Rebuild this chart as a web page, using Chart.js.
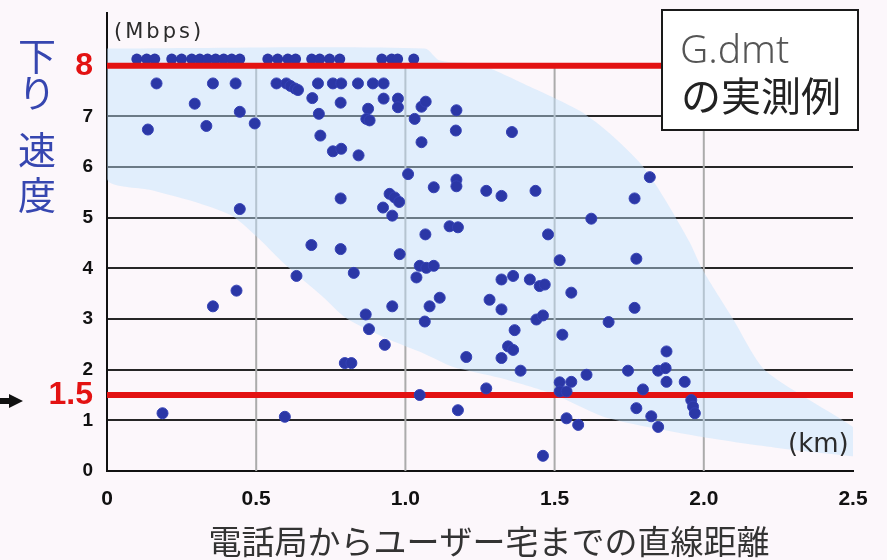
<!DOCTYPE html>
<html>
<head>
<meta charset="utf-8">
<script src="https://cdn.jsdelivr.net/npm/chart.js@4.4.0/dist/chart.umd.min.js"></script>
<style>
  html, body { margin: 0; padding: 0; background: #fcf7fb; }
  #wrap { width: 887px; height: 560px; }
</style>
</head>
<body>
<div id="wrap"><canvas id="myChart" width="887" height="560"></canvas></div>
<script>
// measured points (km, Mbps)
const distanceKm = [
  0.166, 0.355, 0.431, 0.294, 0.445, 0.137, 0.333, 0.495,
  0.568, 0.601, 0.615, 0.63, 0.64, 0.688, 0.707, 0.757, 0.785, 0.841, 0.891, 0.927,
  0.783, 0.71, 0.875, 0.869, 0.88, 0.927, 0.975, 0.975,
  0.715, 0.757, 0.785, 0.843, 1.031, 1.054, 1.068, 1.171, 1.169, 1.357, 1.054,
  1.009, 1.095, 1.171, 1.171, 1.271, 1.322, 1.436,
  0.947, 0.964, 0.979, 0.925, 0.956, 0.783, 0.445,
  1.148, 1.176, 1.067, 1.478, 0.981, 1.048, 1.070, 1.095, 1.037,
  1.322, 1.361, 1.417, 1.45, 1.467, 1.282, 1.115, 0.956, 1.081,
  1.517, 1.556, 1.322, 1.065, 1.439, 1.461, 1.366, 1.344, 1.361, 1.322, 1.204, 1.386,
  1.526, 1.607, 1.517, 1.556, 1.517, 1.54, 1.271, 1.048, 1.176, 1.54, 1.579, 1.461,
  1.819, 1.768, 1.623, 1.774, 1.768, 1.681, 1.875, 1.746, 1.847, 1.872, 1.875, 1.936, 1.796, 1.958, 1.964, 1.97, 1.774, 1.824, 1.847,
  0.355, 0.434, 0.186, 0.596, 0.635, 0.685, 0.783, 0.827, 0.867, 0.878, 0.931, 0.797, 0.819
];
const speedMbps = [
  7.65, 7.65, 7.65, 7.25, 7.09, 6.74, 6.81, 6.86,
  7.65, 7.65, 7.6, 7.55, 7.52, 7.36, 7.65, 7.65, 7.65, 7.65, 7.65, 7.65,
  7.27, 7.05, 7.15, 6.95, 6.92, 7.35, 7.35, 7.18,
  6.62, 6.31, 6.36, 6.23, 6.95, 7.19, 7.29, 7.12, 6.72, 6.69, 6.49,
  5.86, 5.60, 5.75, 5.62, 5.53, 5.43, 5.53,
  5.47, 5.40, 5.31, 5.20, 5.04, 5.38, 5.17,
  4.83, 4.81, 4.67, 4.67, 4.28, 4.05, 4.01, 4.05, 3.82,
  3.78, 3.85, 3.78, 3.65, 3.68, 3.38, 3.42, 3.25, 3.25,
  4.16, 3.52, 3.19, 2.95, 2.99, 3.07, 2.78, 2.46, 2.39, 2.23, 2.25, 1.98,
  2.69, 1.90, 1.75, 1.76, 1.57, 1.57, 1.63, 1.50, 1.20, 1.04, 0.91, 0.30,
  5.80, 5.38, 4.98, 4.19, 3.22, 2.94, 2.36, 1.98, 1.98, 2.03, 1.76, 1.76, 1.61, 1.40, 1.27, 1.14, 1.24, 1.08, 0.87,
  3.25, 3.56, 1.14, 1.07, 3.85, 4.46, 4.38, 3.91, 3.09, 2.80, 2.49, 2.13, 2.13
];

// points sitting on the 8 Mbps cap line
const topRowKm = [0.10, 0.133, 0.16, 0.217, 0.25, 0.284, 0.311, 0.337, 0.364, 0.391, 0.418, 0.445,
  0.539, 0.572, 0.606, 0.632, 0.686, 0.713, 0.746, 0.78, 0.921, 0.954, 0.974, 1.028];
const topRowMbps = [8.13, 8.13, 8.13, 8.13, 8.13, 8.13, 8.13, 8.13, 8.13, 8.13, 8.13, 8.13,
  8.13, 8.13, 8.13, 8.13, 8.13, 8.13, 8.13, 8.13, 8.13, 8.13, 8.13, 8.13];

// light blue band outline (upper edge, then lower edge back)
const bandKm = [0, 1.065, 1.115, 1.249, 1.416, 1.584, 1.685, 1.795, 1.869, 1.953, 1.996, 2.097, 2.197, 2.321, 2.466, 2.556, 2.573,
  2.499, 2.254, 1.996, 1.675, 1.494, 1.316, 1.158, 1.058, 0.947, 0.803, 0.723, 0.596, 0.512, 0.421, 0.311, 0.143, 0, 0];
const bandMbps = [8.34, 8.34, 8.10, 8.02, 7.59, 7.11, 6.66, 6.02, 5.37, 4.51, 3.97, 3.01, 2.04, 1.52, 1.00, 0.61, 0.25,
  0.29, 0.45, 0.67, 1.05, 1.52, 1.84, 2.06, 2.33, 2.59, 3.01, 3.44, 4.08, 4.57, 5.03, 5.28, 5.55, 5.76, 8.34];

const redLevels = [8, 1.5];
const xTicks = [0, 0.5, 1.0, 1.5, 2.0, 2.5];
const yTicks = [0, 1, 1.5, 2, 3, 4, 5, 6, 7, 8];
const vLines = [0.5, 1.0, 1.5, 2.0];

const numFont = "'Liberation Sans Narrow', 'Liberation Sans', Arial, sans-serif";
const jpFont = "'Noto Sans CJK JP', sans-serif";

const decorations = {
  id: 'decorations',
  beforeDatasetsDraw(chart) {
    const {ctx, scales: {x, y}} = chart;
    ctx.save();
    ctx.strokeStyle = '#ababab';
    ctx.lineWidth = 2;
    vLines.forEach(v => {
      const px = x.getPixelForValue(v);
      ctx.beginPath();
      ctx.moveTo(px, y.getPixelForValue(8));
      ctx.lineTo(px, y.getPixelForValue(0));
      ctx.stroke();
    });
    ctx.restore();
  },
  afterDraw(chart) {
    const ctx = chart.ctx;
    ctx.save();
    // units
    ctx.fillStyle = '#2b2b2b';
    ctx.textAlign = 'left';
    ctx.textBaseline = 'alphabetic';
    ctx.font = "21px 'DejaVu Sans'";
    ctx.letterSpacing = '3px';
    ctx.fillText('(Mbps)', 114, 38);
    ctx.letterSpacing = '0px';
    ctx.font = "26px 'DejaVu Sans'";
    ctx.fillText('(km)', 788, 452);

    // y title, vertical
    ctx.fillStyle = '#3646b0';
    ctx.font = '38px ' + jpFont;
    ctx.textAlign = 'center';
    ctx.textBaseline = 'middle';
    [['下', 56], ['り', 93], ['速', 150], ['度', 195]].forEach(([ch, cy]) => ctx.fillText(ch, 37, cy));

    // x title
    ctx.fillStyle = '#333';
    ctx.font = '33px ' + jpFont;
    ctx.fillText('電話局からユーザー宅までの直線距離', 489, 541);

    // legend box
    ctx.fillStyle = '#fff';
    ctx.fillRect(662, 10, 196, 120);
    ctx.strokeStyle = '#1a1a1a';
    ctx.lineWidth = 2;
    ctx.strokeRect(662, 10, 196, 120);
    ctx.textAlign = 'left';
    ctx.textBaseline = 'alphabetic';
    ctx.fillStyle = '#555';
    ctx.font = "300 39px 'Noto Sans', sans-serif";
    ctx.fillText('G.dmt', 680, 63);
    ctx.fillStyle = '#222';
    ctx.textBaseline = 'middle';
    ctx.font = '40px ' + jpFont;
    ctx.fillText('の実測例', 681, 96);

    // arrow at left
    ctx.fillStyle = '#111';
    ctx.beginPath();
    ctx.moveTo(0, 398); ctx.lineTo(9, 398); ctx.lineTo(9, 394);
    ctx.lineTo(23, 401); ctx.lineTo(9, 408); ctx.lineTo(9, 404); ctx.lineTo(0, 404);
    ctx.closePath();
    ctx.fill();
    ctx.restore();
  }
};

const isRed = (c) => c.tick && redLevels.includes(c.tick.value);

new Chart(document.getElementById('myChart'), {
  type: 'scatter',
  data: {
    datasets: [
      {
        label: 'band',
        data: bandKm.map((v, i) => ({x: v, y: bandMbps[i]})),
        showLine: true,
        fill: 'shape',
        tension: 0.25,
        borderWidth: 0,
        pointRadius: 0,
        backgroundColor: 'rgba(192, 227, 253, 0.45)',
        clip: {left: 0, top: 0, right: 30, bottom: 0},
        order: 4
      },
      {
        label: 'top',
        data: topRowKm.map((v, i) => ({x: v, y: topRowMbps[i]})),
        pointRadius: 5.5,
        pointBackgroundColor: '#2b37a6',
        pointBorderWidth: 0,
        clip: false,
        order: 3
      },
      ...redLevels.map(lvl => ({
        label: 'red' + lvl,
        data: [{x: 0, y: lvl}, {x: 2.5, y: lvl}],
        showLine: true,
        borderColor: '#e31212',
        borderWidth: 6,
        pointRadius: 0,
        fill: false,
        order: 2
      })),
      {
        label: 'G.dmt',
        data: distanceKm.map((v, i) => ({x: v, y: speedMbps[i]})),
        pointRadius: 5.5,
        pointBackgroundColor: '#2b37a6',
        pointBorderColor: '#3441b5',
        pointBorderWidth: 1,
        order: 1
      }
    ]
  },
  options: {
    responsive: false,
    animation: false,
    layout: { padding: {top: 13, right: 34, left: 0, bottom: 0} },
    plugins: { legend: {display: false}, tooltip: {enabled: false} },
    scales: {
      x: {
        min: 0, max: 2.5,
        afterBuildTicks: (s) => { s.ticks = xTicks.map(v => ({value: v})); },
        afterFit: (s) => { s.height = 89; s.paddingLeft = 0; s.paddingRight = 0; },
        grid: { display: false, drawTicks: false },
        border: { display: true, color: '#111', width: 2 },
        ticks: {
          padding: 16,
          color: '#111',
          font: { family: numFont, size: 21, weight: 'bold' },
          callback: (v) => v === 0 ? '0' : Number(v).toFixed(1)
        }
      },
      y: {
        min: 0, max: 9.04,
        afterBuildTicks: (s) => { s.ticks = yTicks.map(v => ({value: v})); },
        afterFit: (s) => { s.width = 107; s.paddingTop = 0; s.paddingBottom = 0; },
        grid: {
          drawTicks: false,
          lineWidth: 2,
          color: (c) => (isRed(c) || (c.tick && c.tick.value === 0)) ? 'rgba(0,0,0,0)' : '#262626'
        },
        border: { display: true, color: '#111', width: 2 },
        ticks: {
          autoSkip: false,
          padding: 14,
          color: (c) => isRed(c) ? '#e31212' : '#111',
          font: (c) => isRed(c)
            ? {family: numFont, size: 32, weight: 'bold'}
            : {family: numFont, size: 19, weight: 'bold'},
          callback: (v) => String(v)
        }
      }
    }
  },
  plugins: [decorations]
});
</script>
</body>
</html>
